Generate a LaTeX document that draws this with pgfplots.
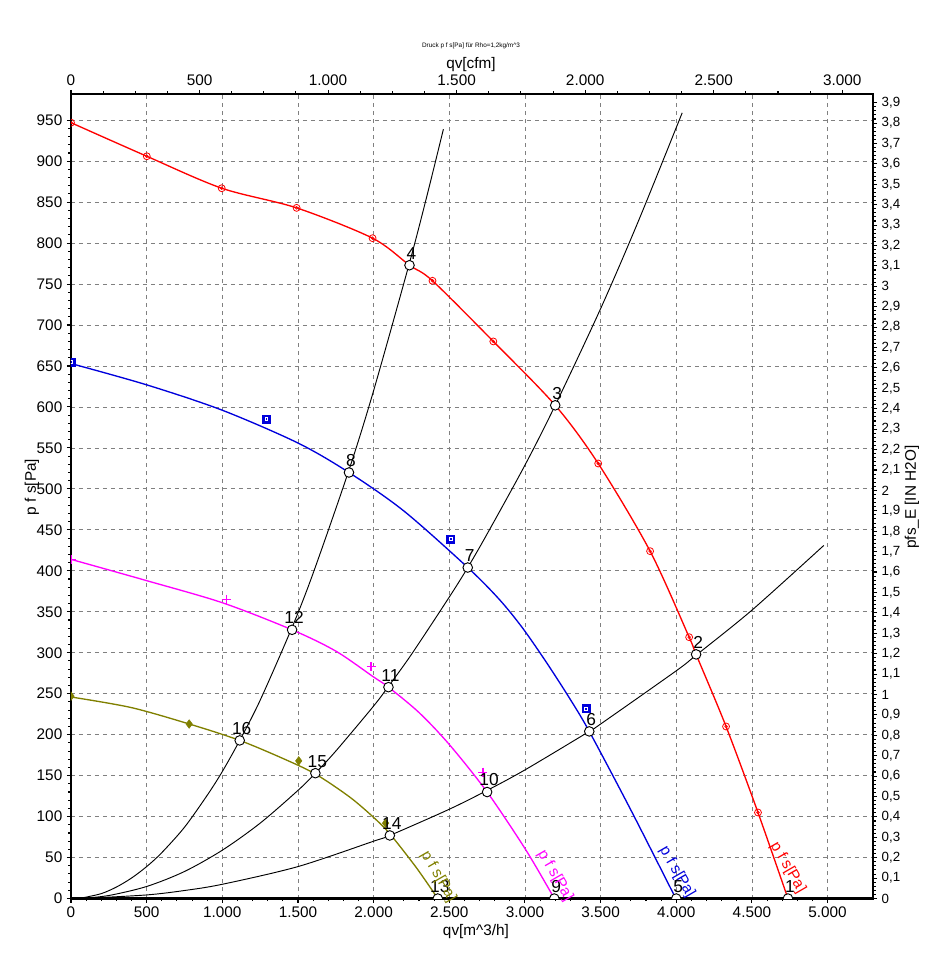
\documentclass[border=0pt]{standalone}
\usepackage{fontspec}
\setmainfont{Liberation Sans}
\usepackage{pgfplots}
\pgfplotsset{compat=1.18}
\definecolor{myred}{RGB}{255,0,0}
\definecolor{myblue}{RGB}{0,0,220}
\definecolor{mymag}{RGB}{255,0,255}
\definecolor{myolive}{RGB}{128,128,0}
\definecolor{gridgray}{RGB}{128,128,128}
\pgfplotsset{
  base/.style={
    width=601.5pt, height=603.4pt, scale only axis,
    /pgf/number format/assume math mode=true,
    tick label style={font=\fontsize{11.5}{13}\selectfont},
    axis line style={line width=1.8pt},
    major tick length=3pt, minor tick length=2pt,
    every tick/.style={black, line width=0.8pt},
    tick align=outside, scaled ticks=false,
  }
}
\begin{document}
\begin{tikzpicture}
\begin{axis}[base, name=main,
  xmin=0, xmax=5300, ymin=0, ymax=982,
  xtick={0,500,...,5000}, ytick={0,50,...,950},
  minor x tick num=4, minor y tick num=4,
  xtick pos=left, ytick pos=left,
  xticklabel style={/pgf/number format/1000 sep={.}},
  grid=major, major grid style={gridgray, dash pattern=on 3pt off 3pt, line width=0.6pt},
  clip marker paths=true, clip mode=individual,
]
% system curves
\addplot[black, line width=0.7pt, smooth] coordinates {
(80,1) (200,6) (300,14) (400,25) (500,39) (600,56) (750,87) (900,126) (1000,155) (1115,193) (1250,242) (1461,331) (1600,397) (1837,523) (2000,620) (2237,776) (2350,856) (2461,939)};
\addplot[black, line width=0.7pt, smooth] coordinates {
(80,0.4) (250,3.7) (500,14.7) (750,33) (1000,59) (1250,92) (1500,132) (1615,153) (1750,180) (2000,235) (2098,259) (2250,298) (2500,368) (2622,404) (2750,445) (3000,529) (3200,602) (3500,720) (3750,827) (4039,959)};
\addplot[black, line width=0.7pt, smooth] coordinates {
(80,0.1) (500,4.4) (750,9.8) (1000,17.4) (1500,39) (2000,70) (2107,77) (2500,109) (2750,132) (3000,157) (3425,204) (3500,213) (4000,278) (4131,297) (4500,352) (4975,431)};
% fan curves
\addplot[myred, line width=1pt, smooth] coordinates {
(0,947) (501,906) (996,867) (1491,843) (1993,806) (2237,773) (2389,754) (2791,680) (3200,602) (3484,531) (3827,424) (4085,319) (4131,298) (4329,210) (4540,105) (4738,0)};
\addplot[myblue, line width=1pt, smooth] coordinates {
(0,653) (500,627) (1000,596) (1500,556) (1837,520) (2200,473) (2622,404) (2831,365) (2985,330) (3139,289) (3293,245) (3425,204) (3700,108) (3997,0)};
\addplot[mymag, line width=1pt, smooth] coordinates {
(0,414) (500,388) (1001,361) (1461,328) (1750,302) (1995,271) (2098,258) (2300,227) (2500,188) (2750,130) (3007,59) (3194,0)};
\addplot[myolive, line width=1pt, smooth] coordinates {
(0,246) (400,233) (800,212) (1115,193) (1400,171) (1615,152) (1841,124) (2000,99) (2107,79) (2281,38) (2424,0)};
% markers
\addplot[only marks, myred, mark=o, mark size=2.6pt, mark options={line width=0.6pt}] coordinates {
(0,947) (501,906) (996,867) (1491,843) (1993,806) (2389,754) (2791,680) (3484,531) (3827,424) (4085,319) (4329,210) (4540,105)};
\addplot[only marks, myred, mark=o, mark size=1pt, mark options={line width=0.5pt}] coordinates {
(0,947) (501,906) (996,867) (1491,843) (1993,806) (2389,754) (2791,680) (3484,531) (3827,424) (4085,319) (4329,210) (4540,105)};
\addplot[only marks, mark=square*, mark size=3pt, mark options={fill=myblue, draw=myblue}] coordinates {
(0,655) (1291,585) (2508,439) (3403,232)};
\addplot[only marks, mark=square, mark size=1.1pt, mark options={draw=white, line width=0.5pt}] coordinates {
(0,655) (1291,585) (2508,439) (3403,232)};
\addplot[only marks, mark=+, mark size=3.5pt, mark options={draw=mymag, line width=1.2pt}] coordinates {
(0,414) (1027,365) (1984,283) (2721,154)};
\addplot[only marks, mark=diamond*, mark size=3.2pt, mark options={fill=myolive, draw=myolive}] coordinates {
(0,247) (781,213) (1505,168) (2079,92)};
% operating points
\addplot[only marks, mark=*, mark size=3.6pt,
  mark options={fill=white, draw=black, line width=0.7pt},
  nodes near coords, point meta=explicit symbolic,
  nodes near coords align={anchor=center},
  every node near coord/.style={anchor=center, yshift=9pt, xshift=1.5pt, text=black, font=\fontsize{13}{15}\selectfont}]
  table[meta=lab] {
x y lab
4738 0 1
4131 298 2
3200 602 3
2237 773 4
4000 0 5
3425 204 6
2622 404 7
1837 520 8
3194 0 9
2750 130 10
2098 258 11
1461 328 12
2424 0 13
2107 77 14
1615 153 15
1115 193 16
};
\node[rotate=-60, text=myred, font=\fontsize{11.5}{13}\selectfont] at (axis cs:4738,38) {p f s[Pa]};
\node[rotate=-60, text=myblue, font=\fontsize{11.5}{13}\selectfont] at (axis cs:4005,32) {p f s[Pa]};
\node[rotate=-60, text=mymag, font=\fontsize{11.5}{13}\selectfont] at (axis cs:3200,28) {p f s[Pa]};
\node[rotate=-60, text=myolive, font=\fontsize{11.5}{13}\selectfont] at (axis cs:2428,27) {p f s[Pa]};
\end{axis}
% top axis: cfm
\begin{axis}[base,
  xmin=0, xmax=3119.5, ymin=0, ymax=1,
  axis x line*=top, axis y line=none,
  xtick={0,500,...,3000}, minor x tick num=3,
  xticklabel style={/pgf/number format/1000 sep={.}},
]
\end{axis}
% right axis: in H2O
\begin{axis}[base,
  xmin=0, xmax=1, ymin=0, ymax=3.9424,
  axis y line*=right, axis x line=none,
  ytick={0,0.1,...,3.9}, minor y tick num=4,
  yticklabel style={font=\fontsize{10}{12}\selectfont, /pgf/number format/.cd, fixed, precision=1, use comma},
]
\end{axis}
\node[font=\fontsize{4.8}{6}\selectfont] at ([shift={(300pt,36pt)}]main.north west) {Druck p f s[Pa] für Rho=1,2kg/m\^{}3};
\node[font=\fontsize{11.5}{13}\selectfont] at ([shift={(300pt,21.75pt)}]main.north west) {qv[cfm]};
\node[font=\fontsize{11.5}{13}\selectfont] at ([shift={(303.75pt,-25.1pt)}]main.south west) {qv[m\^{}3/h]};
\node[rotate=90, font=\fontsize{11.5}{13}\selectfont] at ([shift={(-29.25pt,308.6pt)}]main.south west) {p f s[Pa]};
\node[rotate=90, font=\fontsize{11.5}{13}\selectfont] at ([shift={(29.25pt,301pt)}]main.south east) {pfs\_E [IN H2O]};
\pgfresetboundingbox
\path ([shift={(-53.25pt,-55.1pt)}]main.south west) rectangle ([shift={(54.75pt,70.5pt)}]main.north east);
\end{tikzpicture}
\end{document}
